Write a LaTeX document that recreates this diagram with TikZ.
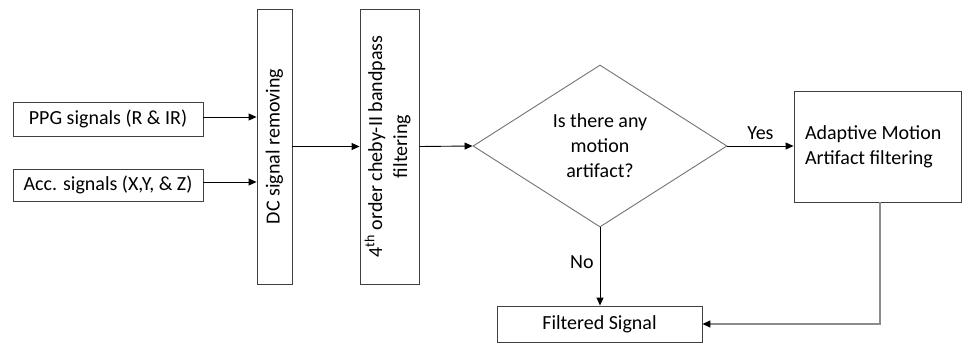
\documentclass[tikz,border=0pt]{standalone}
\usepackage{fontspec}
\setmainfont{Carlito}
\usetikzlibrary{shapes.geometric,arrows.meta}
\begin{document}
\begin{tikzpicture}[x=1pt,y=-1pt,
  every node/.style={font=\fontsize{20}{25}\selectfont},
  box/.style={draw=black!75,line width=0.9pt,rectangle,inner sep=0pt,align=center},
  decision/.style={draw=black!55,line width=0.9pt,diamond,inner sep=0pt,align=center,
    minimum width=254pt,minimum height=162pt,aspect=1.57},
  arr/.style={draw=black,line width=0.9pt,-{Triangle[length=8pt,width=7pt]}},
  grayarr/.style={draw=black!45,line width=1.4pt,-{Triangle[length=8pt,width=7pt,color=black]}},
  lbl/.style={inner sep=0pt}]
\useasboundingbox (0,0) rectangle (962,343);
\node[box,minimum width=190pt,minimum height=34pt] (ppg) at (108,119) {PPG signals (R \& IR)};
\node[box,minimum width=190pt,minimum height=32pt] (acc) at (108,185) {Acc. signals (X,Y, \& Z)};
\node[box,minimum width=35pt,minimum height=275pt] (dc) at (274.5,146.5) {\rotatebox{90}{DC signal removing}};
\node[box,minimum width=59pt,minimum height=275pt] (cheby) at (389.5,146.5)
  {\rotatebox{90}{\begin{tabular}{@{}c@{}}4\textsuperscript{th} order cheby-II bandpass\\filtering\end{tabular}}};
\node[decision] (dia) at (600,146) {Is there any\\motion\\artifact?};
\node[box,minimum height=111pt,text width=145pt,inner xsep=11pt,align=flush left] (ama) at (877.5,146.5)
  {Adaptive Motion\\Artifact filtering\\[6pt]};
\node[box,minimum width=205pt,minimum height=36pt] (fil) at (599.5,324) {Filtered Signal};
\draw[arr] ([yshift=2pt]ppg.east) -- ([yshift=2pt]ppg.east -| dc.west);
\draw[arr] ([yshift=3pt]acc.east) -- ([yshift=3pt]acc.east -| dc.west);
\draw[arr] (dc.east) -- (cheby.west);
\draw[arr] (cheby.east) -- (dia.west);
\draw[arr] (dia.east) -- node[lbl,above=6pt] {Yes} (ama.west |- dia.east);
\draw[arr] (dia.south) -- node[lbl,left=6pt,pos=0.45] {No} (dia.south |- fil.north);
\draw[grayarr] ([xshift=2.5pt]ama.south) |- (fil.east);
\end{tikzpicture}
\end{document}
